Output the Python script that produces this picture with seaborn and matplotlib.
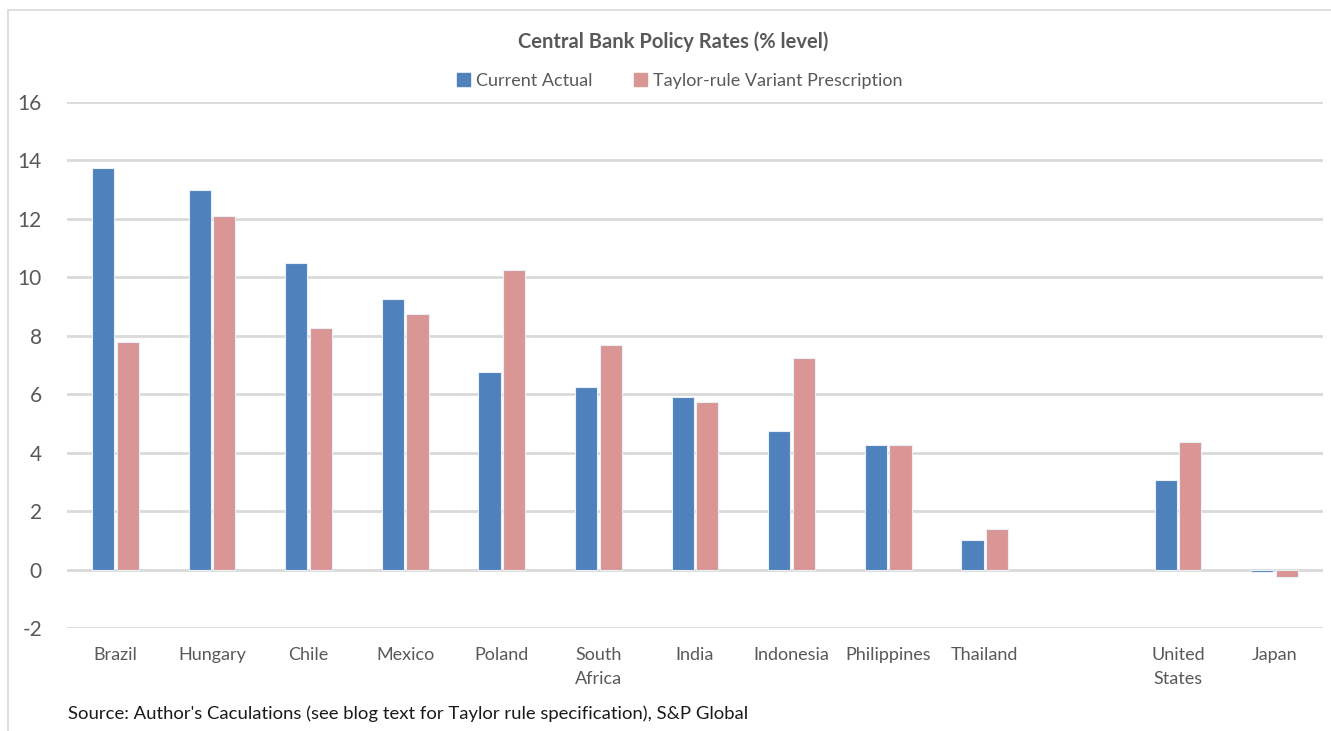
import matplotlib
matplotlib.use("Agg")
import matplotlib.pyplot as plt
import matplotlib.patches as mpatches
import numpy as np
import pandas as pd
import seaborn as sns

countries = ["Brazil", "Hungary", "Chile", "Mexico", "Poland", "South\nAfrica",
             "India", "Indonesia", "Philippines", "Thailand", " ",
             "United\nStates", "Japan"]
current_actual = [13.75, 13.0, 10.5, 9.25, 6.75, 6.25, 5.9, 4.75, 4.25, 1.0, np.nan, 3.08, -0.1]
taylor_prescription = [7.8, 12.1, 8.25, 8.75, 10.25, 7.7, 5.75, 7.25, 4.25, 1.4, np.nan, 4.35, -0.25]
series_names = ["Current Actual", "Taylor-rule Variant Prescription"]
y_ticks = [-2, 0, 2, 4, 6, 8, 10, 12, 14, 16]

title = "Central Bank Policy Rates (% level)"
source = "Source: Author's Caculations (see blog text for Taylor rule specification), S&P Global"

colors = ["#4F81BD", "#D99694"]
text_gray = "#595959"
grid_gray = "#D9D9D9"

df = pd.concat([
    pd.DataFrame({"country": countries, "rate": current_actual, "series": series_names[0]}),
    pd.DataFrame({"country": countries, "rate": taylor_prescription, "series": series_names[1]}),
]).dropna()

sns.set_theme(style="white")
plt.rcParams["font.family"] = ["Lato", "DejaVu Sans"]
plt.rcParams["axes.unicode_minus"] = False

fig = plt.figure(figsize=(13.31, 7.31), dpi=100)
ax = fig.add_axes([67 / 1331, 103 / 731, (1323 - 67) / 1331, (628 - 102) / 731])

sns.barplot(data=df, x="country", y="rate", hue="series", order=countries,
            hue_order=series_names, palette=colors, width=0.51, gap=0.1,
            edgecolor="#EAF0F8", linewidth=0.8, saturation=1, ax=ax, legend=False)

ax.set_ylim(-2, 16)
ax.set_yticks(y_ticks)
ax.set_xlim(-0.5, len(countries) - 0.5)
ax.yaxis.grid(True, color=grid_gray, linewidth=2)
ax.set_axisbelow(True)
for s in ax.spines.values():
    s.set_visible(False)
ax.set_xlabel("")
ax.set_ylabel("")
ax.tick_params(axis="y", length=0, pad=18, labelsize=15, labelcolor=text_gray)
ax.tick_params(axis="x", length=0, pad=14, labelsize=13, labelcolor=text_gray)
for lab in ax.get_xticklabels():
    lab.set_linespacing(1.6)
    lab.set_verticalalignment("top")

# outer chart frame
fig.patches.append(mpatches.Rectangle((8 / 1331, -0.01), 1.02, 1 - 10 / 731 + 0.01,
                                      transform=fig.transFigure, fill=False,
                                      edgecolor="#D9D9D9", linewidth=1.2))

fig.text(673 / 1331, 1 - 42 / 731, title, ha="center", va="center",
         fontsize=14.5, fontweight="bold", color=text_gray)

handles = [mpatches.Patch(color=c, label=n) for c, n in zip(colors, series_names)]
fig.legend(handles=handles, loc="center", bbox_to_anchor=(680 / 1331, 1 - 81 / 731),
           ncol=2, frameon=False, fontsize=13, labelcolor=text_gray,
           handlelength=0.7, handleheight=0.7, handletextpad=0.35, columnspacing=2.3)

fig.text(68 / 1331, 1 - 714 / 731, source, ha="left", va="center",
         fontsize=13.3, color="#1a1a1a")

fig.savefig("out.png", dpi=100, facecolor="white")
